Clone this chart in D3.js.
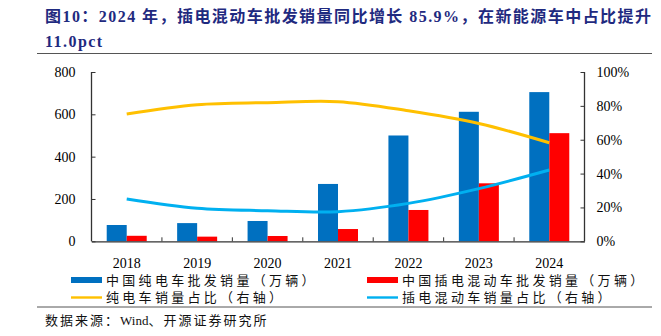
<!DOCTYPE html>
<html>
<head>
<meta charset="utf-8">
<script src="https://cdn.jsdelivr.net/npm/d3@7"></script>
<style>
  body { margin: 0; background: #fff; }
  svg { display: block; }
  .tick text { font-family: "Liberation Serif", "Times New Roman", serif; font-size: 14px; fill: #000; }
  .cn { font-family: "Liberation Serif", "Noto Sans CJK SC", serif; }
</style>
</head>
<body>
<svg id="chart" width="661" height="336"></svg>
<script>
// 年份与两组批发销量（万辆）
var years = ["2018", "2019", "2020", "2021", "2022", "2023", "2024"];
var bevSales = [77, 86, 96, 271, 500, 612, 705];
var phevSales = [26, 22, 25, 58, 148, 274, 511];
// 新能源车内部占比（%，右轴）
var bevShare = [75.2, 80.7, 81.9, 82.5, 77.1, 69.6, 58.2];
var phevShare = [25.0, 19.5, 18.1, 17.5, 22.4, 31.1, 42.1];
var leftTicks = [0, 200, 400, 600, 800];
var rightTicks = [0, 20, 40, 60, 80, 100];

var titleLines = ["图10：2024 年，插电混动车批发销量同比增长 85.9%，在新能源车中占比提升", "11.0pct"];
var seriesNames = ["中国纯电车批发销量（万辆）", "中国插电混动车批发销量（万辆）", "纯电车销量占比（右轴）", "插电混动车销量占比（右轴）"];
var sourceParts = ["数据来源：", "Wind", "、开源证券研究所"];

var colBev = "#0070C0", colPhev = "#FF0000", colBevLine = "#FFC000", colPhevLine = "#00B0F0";

var svg = d3.select("#chart");
var pLeft = 91.5, pRight = 584.5, pTop = 72, pBottom = 241.3;

// 标题
svg.selectAll("text.title").data(titleLines).enter().append("text")
    .attr("class", "title cn")
    .attr("x", 45)
    .attr("y", function(d, i) { return 22 + i * 25; })
    .style("font-size", "16px")
    .style("font-weight", "bold")
    .style("letter-spacing", "1.45px")
    .style("fill", "#1f2a80")
    .text(function(d) { return d; });

svg.append("line").attr("x1", 37).attr("x2", 652).attr("y1", 53.5).attr("y2", 53.5)
    .attr("stroke", "#555").attr("stroke-width", 1);

var x = d3.scaleBand().domain(years).range([pLeft, pRight]);
var sub = d3.scaleBand().domain(["bev", "phev"]).range([0, x.bandwidth() * 0.568]);
var y = d3.scaleLinear().domain([0, 800]).range([pBottom, pTop]);
var y2 = d3.scaleLinear().domain([0, 100]).range([pBottom, pTop]);

var g = svg.append("g");

// 柱子
var rows = years.map(function(yr, i) { return {year: yr, bev: bevSales[i], phev: phevSales[i]}; });
var off = x.bandwidth() / 2 - sub.range()[1] / 2;
["bev", "phev"].forEach(function(k) {
    g.selectAll("rect." + k).data(rows).enter().append("rect")
        .attr("class", k)
        .attr("x", function(d) { return x(d.year) + off + sub(k); })
        .attr("width", sub.bandwidth())
        .attr("y", function(d) { return y(d[k]); })
        .attr("height", function(d) { return y(0) - y(d[k]); })
        .attr("fill", k == "bev" ? colBev : colPhev);
});

// 占比折线
var line = d3.line()
    .x(function(d, i) { return x(years[i]) + x.bandwidth() / 2; })
    .y(function(d) { return y2(d); })
    .curve(d3.curveCatmullRom.alpha(0.5));

g.append("path").datum(bevShare).attr("d", line)
    .attr("fill", "none").attr("stroke", colBevLine).attr("stroke-width", 3);
g.append("path").datum(phevShare).attr("d", line)
    .attr("fill", "none").attr("stroke", colPhevLine).attr("stroke-width", 3);

// 坐标轴
var axisCol = "#333";
var yAxis = svg.append("g").attr("transform", "translate(" + pLeft + ",0)")
    .call(d3.axisRight(y).tickValues(leftTicks).tickSize(4).tickFormat(d3.format("d")));
yAxis.selectAll(".tick text").attr("x", -16).attr("text-anchor", "end");

var yAxis2 = svg.append("g").attr("transform", "translate(" + pRight + ",0)")
    .call(d3.axisLeft(y2).tickValues(rightTicks).tickSize(4).tickFormat(function(d) { return d + "%"; }));
yAxis2.selectAll(".tick text").attr("x", 12).attr("text-anchor", "start");

var xAxis = svg.append("g").attr("transform", "translate(0," + pBottom + ")")
    .call(d3.axisBottom(x).tickSize(0).tickPadding(17));
// 类别间的分隔刻度朝上
xAxis.selectAll(".sep").data(years.slice(1)).enter().append("line")
    .attr("class", "sep")
    .attr("x1", function(d) { return x(d); }).attr("x2", function(d) { return x(d); })
    .attr("y1", 0).attr("y2", -4).attr("stroke", axisCol);

[yAxis, yAxis2, xAxis].forEach(function(a) {
    a.select(".domain").attr("stroke", axisCol).attr("stroke-width", 1.3);
    a.selectAll(".tick line").attr("stroke", axisCol);
});
yAxis.select(".domain").attr("d", "M0," + pTop + "V" + pBottom);
yAxis2.select(".domain").attr("d", "M0," + pTop + "V" + pBottom);

// 图例
var legendItems = [
    {name: seriesNames[0], type: "bar", color: colBev, x: 71, y: 280},
    {name: seriesNames[1], type: "bar", color: colPhev, x: 367, y: 280},
    {name: seriesNames[2], type: "line", color: colBevLine, x: 71, y: 297.5},
    {name: seriesNames[3], type: "line", color: colPhevLine, x: 367, y: 297.5}
];
var lg = svg.selectAll("g.legend").data(legendItems).enter().append("g")
    .attr("class", "legend")
    .attr("transform", function(d) { return "translate(" + d.x + "," + d.y + ")"; });
lg.append("rect")
    .attr("x", 0).attr("width", 31)
    .attr("y", function(d) { return d.type == "bar" ? -3 : -1.2; })
    .attr("height", function(d) { return d.type == "bar" ? 6 : 2.4; })
    .attr("fill", function(d) { return d.color; });
lg.append("text")
    .attr("class", "cn")
    .attr("x", 35).attr("dy", "0.36em")
    .style("font-size", "13px")
    .style("letter-spacing", "3.3px")
    .style("fill", "#111")
    .text(function(d) { return d.name; });

svg.append("line").attr("x1", 37).attr("x2", 652).attr("y1", 307).attr("y2", 307)
    .attr("stroke", "#555").attr("stroke-width", 1);

// 数据来源，英文部分不加字距
svg.append("text").attr("class", "cn")
    .attr("x", 45).attr("y", 320).attr("dy", "0.36em")
    .style("font-size", "13px")
    .style("fill", "#111")
    .selectAll("tspan").data(sourceParts).enter().append("tspan")
    .style("letter-spacing", function(d, i) { return i == 1 ? "0px" : "2px"; })
    .text(function(d) { return d; });
</script>
</body>
</html>
